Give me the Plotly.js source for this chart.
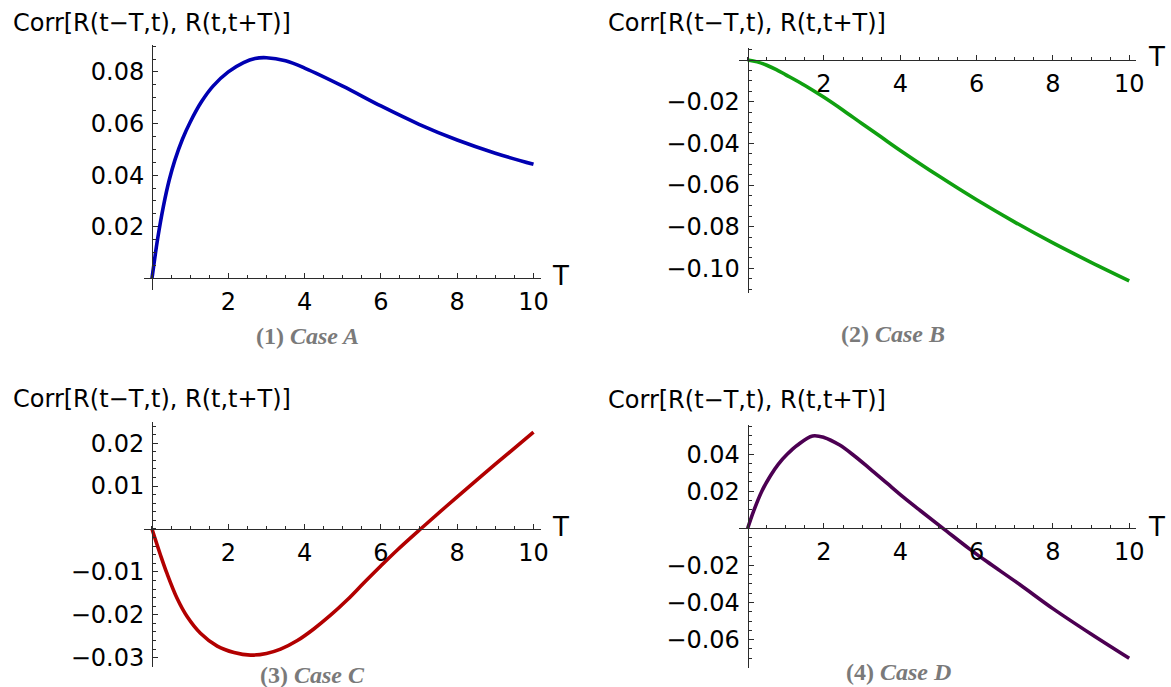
<!DOCTYPE html>
<html>
<head>
<meta charset="utf-8">
<script src="https://cdn.plot.ly/plotly-3.0.1.min.js"></script>
<style>html,body{margin:0;padding:0;background:#fff;}#chart{width:1171px;height:687px;}</style>
</head>
<body>
<div id="chart"></div>
<script>
// ---- data ----
const caseA_T = [0, 0.15, 0.3, 0.45, 0.6, 0.8, 1.0, 1.3, 1.6, 2.0, 2.4, 2.7, 3.0, 3.5, 4, 5, 6, 7, 8, 9, 10];
const caseA_V = [0, 0.0155, 0.0280, 0.0380, 0.0458, 0.0540, 0.0605, 0.0685, 0.0745, 0.0800, 0.0836, 0.0852, 0.0855, 0.0843, 0.0815, 0.0745, 0.0668, 0.0597, 0.0536, 0.0485, 0.0442];

const caseB_T = [0, 0.25, 0.5, 0.75, 1, 1.5, 2, 2.5, 3, 3.5, 4, 5, 6, 7, 8, 9, 10];
const caseB_V = [0, -0.0009, -0.0025, -0.0046, -0.0071, -0.0122, -0.0179, -0.0241, -0.0306, -0.0370, -0.0434, -0.0556, -0.0671, -0.0778, -0.0878, -0.0971, -0.1060];

const caseC_T = [0, 0.22, 0.39, 0.66, 0.92, 1.27, 1.71, 2.15, 2.58, 3.0, 3.37, 3.81, 4.24, 4.68, 5.12, 5.55, 5.99, 6.43, 7.04, 8, 9, 10];
const caseC_V = [0, -0.0060, -0.0103, -0.0162, -0.0204, -0.0243, -0.0273, -0.0288, -0.0294, -0.0290, -0.0280, -0.0260, -0.0233, -0.0201, -0.0165, -0.0126, -0.0087, -0.0049, 0, 0.0075, 0.0151, 0.0226];

const caseD_T = [0, 0.15, 0.37, 0.6, 0.8, 1.04, 1.3, 1.7, 2.0, 2.4, 2.8, 3.2, 3.65, 4.08, 4.52, 5.12, 5.82, 6.26, 7.13, 8, 9, 10];
const caseD_V = [0, 0.009, 0.020, 0.0285, 0.0345, 0.040, 0.0448, 0.0498, 0.0490, 0.0450, 0.0390, 0.0322, 0.0243, 0.0168, 0.0096, 0, -0.0112, -0.0178, -0.0303, -0.0433, -0.0570, -0.0701];

const xTicks = [2, 4, 6, 8, 10];
const yTicksA = [0.02, 0.04, 0.06, 0.08];
const yTicksB = [-0.02, -0.04, -0.06, -0.08, -0.10];
const yTicksC = [-0.03, -0.02, -0.01, 0.01, 0.02];
const yTicksD = [-0.06, -0.04, -0.02, 0.02, 0.04];

const yLabel = "Corr[R(t\u2212T,t), R(t,t+T)]";
const xLabel = "T";
const caseLabels = ["<b>(1) <i>Case A</i></b>", "<b>(2) <i>Case B</i></b>", "<b>(3) <i>Case C</i></b>", "<b>(4) <i>Case D</i></b>"];

// ---- layout (pixel geometry of each panel) ----
const W = 1171, H = 687;
const panels = [
  {x0: 152, sx: 38.15, xr: [-0.21, 10.2], y0: 278.3, top: 45, bottom: 290, yr: [-0.00453, 0.09043], minor: 0.005, ticks: yTicksA, color: 'rgb(0,0,178)',
   title: [11, 23], tpos: [560, 276], cpos: [307, 336]},
  {x0: 747.7, sx: 38.15, xr: [-0.22, 10.19], y0: 60, top: 48.3, bottom: 293.3, yr: [-0.11198, 0.00562], minor: 0.005, ticks: yTicksB, color: 'rgb(16,160,16)',
   title: [606, 23], tpos: [1156, 57], cpos: [893, 334]},
  {x0: 152, sx: 38.15, xr: [-0.21, 10.2], y0: 529, top: 421.7, bottom: 666.7, yr: [-0.0321, 0.02501], minor: 0.002, ticks: yTicksC, color: 'rgb(178,0,0)',
   title: [11, 399], tpos: [560, 527], cpos: [312, 675]},
  {x0: 747.7, sx: 38.15, xr: [-0.22, 10.19], y0: 528.3, top: 425, bottom: 668.3, yr: [-0.07547, 0.05569], minor: 0.005, ticks: yTicksD, color: 'rgb(76,0,82)',
   title: [606, 400], tpos: [1156, 527], cpos: [898, 672]}
];
const series = [[caseA_T, caseA_V], [caseB_T, caseB_V], [caseC_T, caseC_V], [caseD_T, caseD_V]];

const fontFam = "DejaVu Sans, Liberation Sans, Arial, sans-serif";
const axisCol = '#2b2b2b';
const fmt = v => (v < 0 ? '\u2212' : '') + Math.abs(v).toFixed(2);

const data = [];
const layout = {
  width: W, height: H, autosize: false,
  margin: {l: 0, r: 0, t: 0, b: 0, pad: 0},
  paper_bgcolor: '#fff', plot_bgcolor: 'rgba(0,0,0,0)',
  showlegend: false,
  font: {family: fontFam, size: 24, color: '#000'},
  annotations: []
};

panels.forEach((p, i) => {
  const n = i === 0 ? '' : String(i + 1);
  data.push({
    x: series[i][0], y: series[i][1], type: 'scatter', mode: 'lines',
    line: {color: p.color, width: 3.6, shape: 'spline', smoothing: 1},
    xaxis: 'x' + n, yaxis: 'y' + n, hoverinfo: 'skip'
  });
  const xl = p.x0 + p.xr[0] * p.sx, xrgt = p.x0 + p.xr[1] * p.sx;
  layout['xaxis' + n] = {
    domain: [xl / W, xrgt / W], range: p.xr, anchor: 'free', position: (H - p.y0) / H,
    showgrid: false, zeroline: false, showline: true, linecolor: axisCol, linewidth: 1,
    ticks: 'inside', ticklen: 5, tickwidth: 1, tickcolor: axisCol,
    tickmode: 'array', tickvals: xTicks, ticktext: xTicks.map(String),
    minor: {tickmode: 'linear', tick0: 0, dtick: 0.5, ticks: 'inside', ticklen: 3, tickwidth: 1, tickcolor: axisCol, showgrid: false},
    tickfont: {family: fontFam, size: 24, color: '#000'}, ticklabelstandoff: 2,
    automargin: false, fixedrange: true
  };
  layout['yaxis' + n] = {
    domain: [(H - p.bottom) / H, (H - p.top) / H], range: p.yr, anchor: 'free', position: p.x0 / W,
    showgrid: false, zeroline: false, showline: true, linecolor: axisCol, linewidth: 1,
    ticks: 'inside', ticklen: 5, tickwidth: 1, tickcolor: axisCol,
    tickmode: 'array', tickvals: p.ticks, ticktext: p.ticks.map(fmt),
    minor: {tickmode: 'linear', tick0: 0, dtick: p.minor, ticks: 'inside', ticklen: 3, tickwidth: 1, tickcolor: axisCol, showgrid: false},
    tickfont: {family: fontFam, size: 24, color: '#000'}, ticklabelstandoff: 3,
    automargin: false, fixedrange: true
  };
  layout.annotations.push({
    xref: 'paper', yref: 'paper', x: p.title[0] / W, y: (H - p.title[1]) / H,
    xanchor: 'left', yanchor: 'middle', showarrow: false, text: yLabel,
    font: {family: fontFam, size: 24, color: '#000'}
  });
  layout.annotations.push({
    xref: 'paper', yref: 'paper', x: p.tpos[0] / W, y: (H - p.tpos[1]) / H,
    xanchor: 'center', yanchor: 'middle', showarrow: false, text: xLabel,
    font: {family: fontFam, size: 26, color: '#000'}
  });
  layout.annotations.push({
    xref: 'paper', yref: 'paper', x: p.cpos[0] / W, y: (H - p.cpos[1]) / H,
    xanchor: 'center', yanchor: 'middle', showarrow: false, text: caseLabels[i],
    font: {family: 'Liberation Serif, Times New Roman, serif', size: 24, color: '#7a7a7a'}
  });
});

Plotly.newPlot('chart', data, layout, {staticPlot: true, displayModeBar: false});
</script>
</body>
</html>
